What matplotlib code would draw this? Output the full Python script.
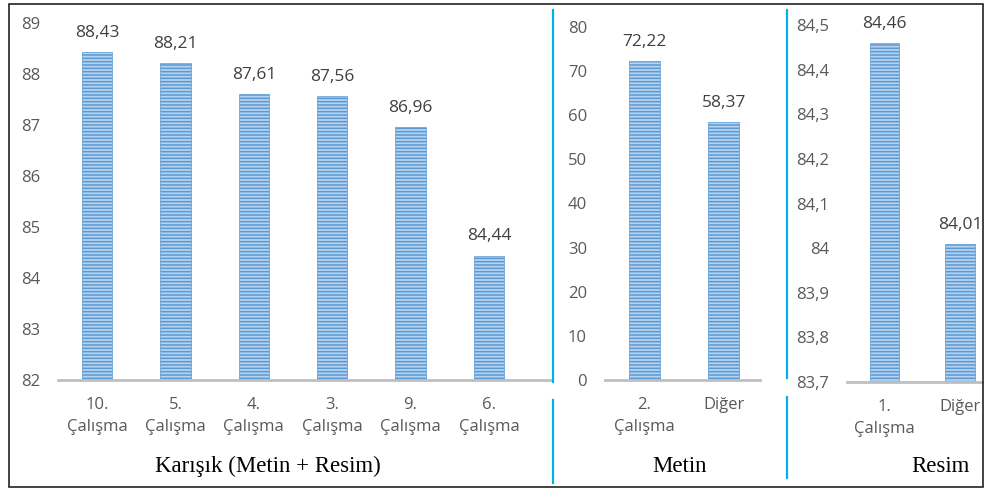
import matplotlib
matplotlib.use("Agg")
import matplotlib.pyplot as plt
from matplotlib.lines import Line2D
from matplotlib.patches import Rectangle

# Data
mixed_labels = ["10.\nÇalışma", "5.\nÇalışma", "4.\nÇalışma", "3.\nÇalışma", "9.\nÇalışma", "6.\nÇalışma"]
mixed_values = [88.43, 88.21, 87.61, 87.56, 86.96, 84.44]
mixed_ticks = [82, 83, 84, 85, 86, 87, 88, 89]

text_labels = ["2.\nÇalışma", "Diğer"]
text_values = [72.22, 58.37]
text_ticks = [0, 10, 20, 30, 40, 50, 60, 70, 80]

image_labels = ["1.\nÇalışma", "Diğer"]
image_values = [84.46, 84.01]
image_ticks = [83.7, 83.8, 83.9, 84.0, 84.1, 84.2, 84.3, 84.4, 84.5]

group_titles = ["Karışık (Metin + Resim)", "Metin", "Resim"]

W, H = 984, 491
fig = plt.figure(figsize=(W / 100, H / 100), dpi=100)
plt.rcParams["hatch.linewidth"] = 1.15

TICK_FONT = "Open Sans"
GRAY = "#595959"
BAR_FACE = "#bad3ee"
BAR_EDGE = "#5b9bd5"


def fmt(v, nd=2):
    s = f"{v:.{nd}f}".rstrip("0").rstrip(".") if nd else f"{v:g}"
    return s.replace(".", ",")


def px_axes(x0, x1, ytop, ybot):
    return fig.add_axes([x0 / W, 1 - ybot / H, (x1 - x0) / W, (ybot - ytop) / H])


def panel(ax, labels, values, ticks, xlim, label_off):
    x = list(range(len(values)))
    ax.bar(x, [v - ticks[0] for v in values], bottom=ticks[0], width=0.39,
           color=BAR_FACE, edgecolor=BAR_EDGE, linewidth=0.5, hatch="-----")
    ax.set_ylim(ticks[0], ticks[-1])
    ax.set_xlim(*xlim)
    ax.set_yticks(ticks)
    ax.set_yticklabels([fmt(t, 1) if isinstance(t, float) else str(t) for t in ticks])
    ax.set_xticks(x)
    ax.set_xticklabels(labels)
    for s in ("top", "right", "left"):
        ax.spines[s].set_visible(False)
    ax.spines["bottom"].set_color("#bfbfbf")
    ax.spines["bottom"].set_linewidth(2)
    ax.tick_params(axis="both", length=0, labelcolor=GRAY, labelsize=12)
    ax.tick_params(axis="y", pad=13)
    ax.tick_params(axis="x", pad=12)
    for lab in ax.get_xticklabels() + ax.get_yticklabels():
        lab.set_fontfamily(TICK_FONT)
    for lab in ax.get_xticklabels():
        lab.set_linespacing(1.5)
        lab.set_verticalalignment("top")
    for xi, v in zip(x, values):
        ax.annotate(fmt(v), (xi, v), xytext=(0, label_off), textcoords="offset points",
                    ha="center", va="bottom", fontsize=12.5, color="#404040",
                    family=TICK_FONT)
    ax.patch.set_alpha(0)


ax1 = px_axes(58, 550, 23, 380)
panel(ax1, mixed_labels, mixed_values, mixed_ticks, (-0.5, 5.78), 8)

ax2 = px_axes(605, 760, 27, 380)
panel(ax2, text_labels, text_values, text_ticks, (-0.5, 1.46), 8)

ax3 = px_axes(847, 984, 25, 382)
panel(ax3, image_labels, image_values, image_ticks, (-0.5, 1.32), 8)
ax3.spines["bottom"].set_clip_on(False)

# Group titles
for title, xc in zip(group_titles, [268, 680, 940]):
    fig.text(xc / W, 1 - 466 / H, title, ha="center", va="center",
             fontsize=16.5, family="Liberation Serif", color="black")

# Blue separators between groups
sep = "#00b0f0"
for xs, segs in [(553, [(10, 382), (400, 483)]), (787, [(10, 378), (397, 478)])]:
    for y0, y1 in segs:
        fig.add_artist(Line2D([xs / W, xs / W], [1 - y0 / H, 1 - y1 / H],
                              color=sep, linewidth=1.6, transform=fig.transFigure))

# Outer frame
fig.add_artist(Rectangle((9 / W, 1 - 487 / H), (983 - 9) / W, (487 - 4) / H,
                         fill=False, edgecolor="#222222", linewidth=1.2,
                         transform=fig.transFigure))

fig.savefig("out.png", dpi=100)
